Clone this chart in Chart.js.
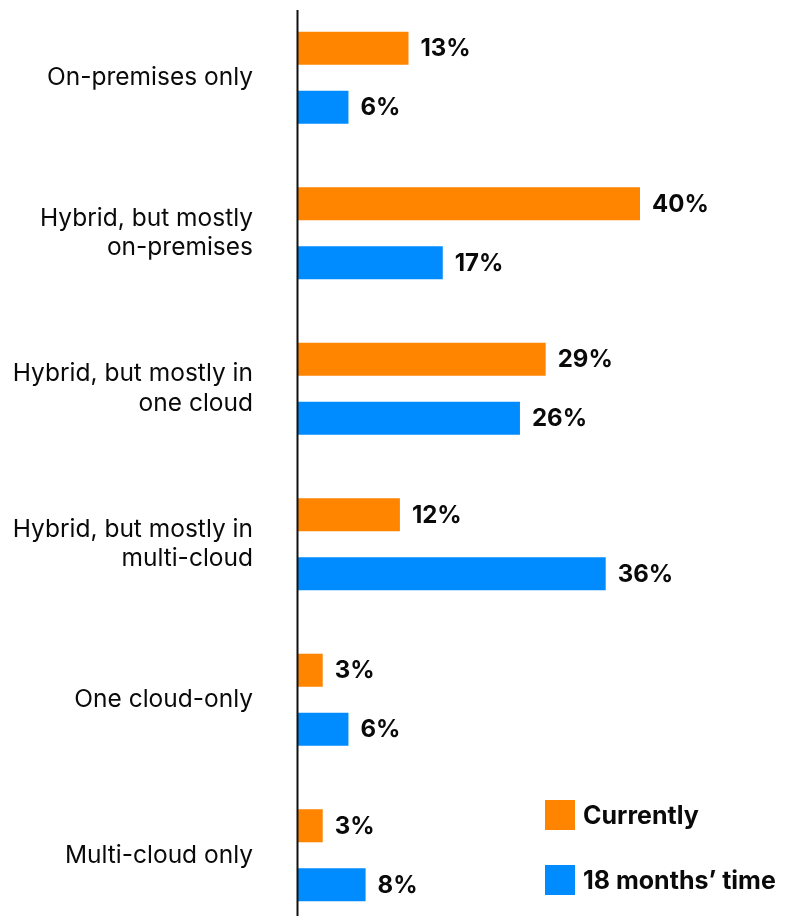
<!DOCTYPE html>
<html>
<head>
<meta charset="utf-8">
<script src="https://cdn.jsdelivr.net/npm/chart.js@4/dist/chart.umd.min.js"></script>
<style>
  html, body { margin: 0; padding: 0; background: #fff; overflow: hidden; }
  #wrap { width: 793px; height: 933px; position: relative; }
</style>
</head>
<body>
<div id="wrap"><canvas id="cloudChart"></canvas></div>
<script>
// deployment model categories (multi-line labels)
const categories = [
    ['On-premises only'],
    ['Hybrid, but mostly', 'on-premises'],
    ['Hybrid, but mostly in', 'one cloud'],
    ['Hybrid, but mostly in', 'multi-cloud'],
    ['One cloud-only'],
    ['Multi-cloud only']
];
const seriesNames = ['Currently', '18 months\u2019 time'];
const currently = [13, 40, 29, 12, 3, 3];
const in18Months = [6, 17, 26, 36, 6, 8];

const ORANGE = '#ff8500';
const BLUE = '#008cff';
const FONT = 'Inter, "Liberation Sans", sans-serif';

// value labels to the right of each bar
const valueLabels = {
    id: 'valueLabels',
    afterDatasetsDraw(chart) {
        const ctx = chart.ctx;
        ctx.save();
        ctx.font = 'bold 24px ' + FONT;
        ctx.fillStyle = '#0a0a0a';
        ctx.textBaseline = 'middle';
        ctx.textAlign = 'left';
        chart.data.datasets.forEach((ds, i) => {
            chart.getDatasetMeta(i).data.forEach((bar, j) => {
                ctx.fillText(ds.data[j] + '%', bar.x + 12, bar.y + 1);
            });
        });
        ctx.restore();
    }
};

// vertical baseline at zero, drawn over the bar ends
const zeroLine = {
    id: 'zeroLine',
    afterDatasetsDraw(chart) {
        const ctx = chart.ctx;
        const x = chart.scales.x.getPixelForValue(0) + 0.5;
        ctx.save();
        ctx.strokeStyle = '#111';
        ctx.lineWidth = 2;
        ctx.beginPath();
        ctx.moveTo(x, 10);
        ctx.lineTo(x, chart.chartArea.bottom);
        ctx.stroke();
        ctx.restore();
    }
};

// legend in the lower right corner
const cornerLegend = {
    id: 'cornerLegend',
    afterDraw(chart) {
        const ctx = chart.ctx;
        ctx.save();
        ctx.font = 'bold 25px ' + FONT;
        ctx.textBaseline = 'middle';
        chart.data.datasets.forEach((ds, i) => {
            const top = 800 + i * 65;
            ctx.fillStyle = ds.backgroundColor;
            ctx.fillRect(545, top, 30, 30);
            ctx.fillStyle = '#0a0a0a';
            ctx.fillText(ds.label, 583, top + 16);
        });
        ctx.restore();
    }
};

new Chart(document.getElementById('cloudChart'), {
    type: 'bar',
    data: {
        labels: categories,
        datasets: [
            { label: seriesNames[0], data: currently, backgroundColor: ORANGE },
            { label: seriesNames[1], data: in18Months, backgroundColor: BLUE }
        ]
    },
    options: {
        indexAxis: 'y',
        responsive: true,
        maintainAspectRatio: false,
        animation: false,
        categoryPercentage: 0.759,
        barPercentage: 0.56,
        layout: { padding: { left: 0, right: 153, top: 0, bottom: 0 } },
        plugins: {
            legend: { display: false },
            tooltip: { enabled: false }
        },
        scales: {
            x: {
                display: false,
                min: 0,
                max: 40
            },
            y: {
                grid: { display: false, drawTicks: false },
                border: { display: false },
                ticks: {
                    padding: 44,
                    color: '#0a0a0a',
                    font: { family: FONT, size: 24.5, lineHeight: 1.2 }
                },
                afterFit(scale) {
                    // fixed axis width; drop the label overhang padding
                    scale.width = 297;
                    scale.paddingTop = 0;
                    scale.paddingBottom = 0;
                }
            }
        }
    },
    plugins: [valueLabels, zeroLine, cornerLegend]
});
</script>
</body>
</html>
